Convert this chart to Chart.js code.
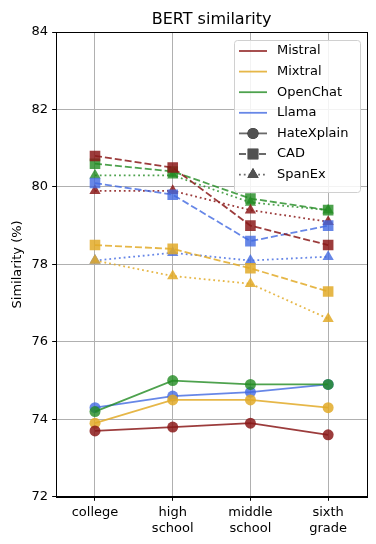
<!DOCTYPE html>
<html>
<head>
<meta charset="utf-8">
<script src="https://cdn.jsdelivr.net/npm/chart.js@4/dist/chart.umd.min.js"></script>
<style>
  html, body { margin: 0; padding: 0; background: #fff; }
  #wrap { width: 376px; height: 544px; }
</style>
</head>
<body>
<div id="wrap"><canvas id="chart" width="376" height="544"></canvas></div>
<script>
const grades = [['college'], ['high', 'school'], ['middle', 'school'], ['sixth', 'grade']];
const models = ['Mistral', 'Mixtral', 'OpenChat', 'Llama'];
const colors = ['rgba(139,26,26,0.85)', 'rgba(226,170,40,0.85)', 'rgba(34,139,34,0.8)', 'rgba(65,105,225,0.8)'];
const sources = ['HateXplain', 'CAD', 'SpanEx'];

// similarity values per model, same order as grades
const hateXplain = {
  Mistral: [73.7, 73.8, 73.9, 73.6],
  Mixtral: [73.9, 74.5, 74.5, 74.3],
  OpenChat: [74.2, 75.0, 74.9, 74.9],
  Llama: [74.3, 74.6, 74.7, 74.9]
};
const cad = {
  Mistral: [80.8, 80.5, 79.0, 78.5],
  Mixtral: [78.5, 78.4, 77.9, 77.3],
  OpenChat: [80.6, 80.4, 79.7, 79.4],
  Llama: [80.1, 79.8, 78.6, 79.0]
};
const spanEx = {
  Mistral: [79.9, 79.9, 79.4, 79.1],
  Mixtral: [78.1, 77.7, 77.5, 76.6],
  OpenChat: [80.3, 80.3, 79.6, 79.4],
  Llama: [78.1, 78.3, 78.1, 78.2]
};
const yTicks = [72, 74, 76, 78, 80, 82, 84];

const styles = {
  HateXplain: { data: hateXplain, dash: [], point: 'circle', radius: 5.5 },
  CAD: { data: cad, dash: [7, 3], point: 'rect', radius: 7.5 },
  SpanEx: { data: spanEx, dash: [1.8, 3], point: 'triangle', radius: 6.5 }
};

const datasets = [];
sources.forEach(src => {
  const s = styles[src];
  models.forEach((m, i) => {
    datasets.push({
      label: m + ' ' + src,
      data: s.data[m],
      borderColor: colors[i],
      backgroundColor: colors[i],
      borderWidth: 1.8,
      borderDash: s.dash,
      pointStyle: s.point,
      pointRadius: s.radius,
      pointBorderWidth: 0,
      pointHoverRadius: s.radius,
      tension: 0
    });
  });
});

// frame, title over the axes and matplotlib-like legend inside the plot
const decorations = {
  id: 'decorations',
  afterDraw(chart) {
    const c = chart.ctx;
    const a = chart.chartArea;
    c.save();
    c.strokeStyle = '#000';
    c.lineWidth = 1;
    c.strokeRect(Math.round(a.left) + 0.5, Math.round(a.top) + 0.5, Math.round(a.right - a.left), Math.round(a.bottom - a.top));

    c.fillStyle = '#000';
    c.font = '16px "DejaVu Sans"';
    c.textAlign = 'center';
    c.textBaseline = 'alphabetic';
    c.fillText('BERT similarity', (a.left + a.right) / 2, a.top - 8);
    c.textAlign = 'left';

    const x0 = 234, y0 = 40, w = 126, h = 152;
    c.fillStyle = 'rgba(255,255,255,0.85)';
    c.strokeStyle = '#d0d0d0';
    c.beginPath();
    c.roundRect(x0 + 0.5, y0 + 0.5, w, h, 3);
    c.fill();
    c.stroke();
    c.font = '13px "DejaVu Sans"';
    c.textBaseline = 'middle';
    const rows = [];
    models.forEach((m, i) => rows.push({ text: m, color: colors[i], dash: [], mark: null }));
    sources.forEach(src => rows.push({ text: src, color: 'rgba(90,90,90,0.9)', dash: styles[src].dash, mark: styles[src].point, r: styles[src].radius }));
    rows.forEach((r, k) => {
      const y = y0 + 11 + k * 20.6;
      c.strokeStyle = r.color;
      c.lineWidth = 1.8;
      c.setLineDash(r.dash);
      c.beginPath();
      c.moveTo(x0 + 5, y);
      c.lineTo(x0 + 33, y);
      c.stroke();
      c.setLineDash([]);
      if (r.mark) {
        Chart.helpers.drawPoint(c, { pointStyle: r.mark, radius: r.r, borderWidth: 0 }, x0 + 19, y);
        c.fillStyle = r.color;
        c.fill();
      }
      c.fillStyle = '#000';
      c.fillText(r.text, x0 + 43, y);
    });
    c.restore();
  }
};

new Chart(document.getElementById('chart'), {
  type: 'line',
  data: { labels: grades, datasets: datasets },
  plugins: [decorations],
  options: {
    responsive: false,
    animation: false,
    layout: { padding: { left: 8, right: 9, top: 32, bottom: 4 } },
    plugins: {
      legend: { display: false },
      tooltip: { enabled: false },
      title: { display: false }
    },
    scales: {
      x: {
        offset: true,
        grid: { offset: false, color: '#b0b0b0', tickColor: '#000', tickLength: 4 },
        border: { color: '#000', width: 1 },
        ticks: { color: '#000', font: { family: 'DejaVu Sans', size: 13 }, padding: 4, maxRotation: 0 }
      },
      y: {
        min: 72,
        max: 84,
        afterBuildTicks: axis => { axis.ticks = yTicks.map(v => ({ value: v })); },
        grid: { color: '#b0b0b0', tickColor: '#000', tickLength: 4 },
        border: { color: '#000', width: 1 },
        ticks: { color: '#000', font: { family: 'DejaVu Sans', size: 13 }, padding: 4 },
        title: { display: true, text: 'Similarity (%)', color: '#000', font: { family: 'DejaVu Sans', size: 13 }, padding: 2 }
      }
    }
  }
});
</script>
</body>
</html>
